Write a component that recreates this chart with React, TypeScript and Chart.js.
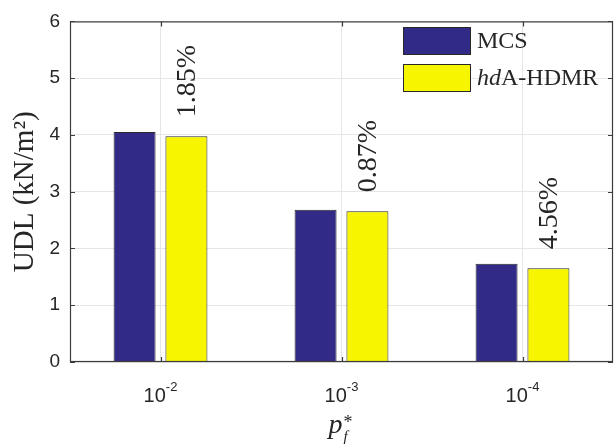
import React, { useEffect, useRef } from "react";
import { Chart, registerables } from "chart.js";

Chart.register(...registerables);

// Probability levels (base 10 exponents shown on the x axis)
const exponents = ["-2", "-3", "-4"];
// Uniformly distributed load, kN/m^2
const mcsValues = [4.05, 2.68, 1.73];
const hdmrValues = [3.975, 2.657, 1.651];
// Relative error of hdA-HDMR with respect to MCS
const errorLabels = ["1.85%", "0.87%", "4.56%"];
const yTicks = [0, 1, 2, 3, 4, 5, 6];

const MCS_COLOR = "#312a86";
const HDMR_COLOR = "#f8f500";
const EDGE = "#2a2a2a";
const AXIS = "#3c3c3c";
const TEXT = "#262626";
const SERIF = "'Liberation Serif', 'Times New Roman', serif";
const SANS = "'Liberation Sans', Arial, sans-serif";

const decorPlugin = {
  id: "decor",
  afterDatasetsDraw(chart: any) {
    const ctx = chart.ctx;
    const meta = chart.getDatasetMeta(1);
    ctx.save();
    ctx.fillStyle = TEXT;
    ctx.font = `28px ${SERIF}`;
    ctx.textAlign = "left";
    ctx.textBaseline = "middle";
    meta.data.forEach((bar: any, i: number) => {
      ctx.save();
      ctx.translate(bar.x, bar.y - 19);
      ctx.rotate(-Math.PI / 2);
      ctx.fillText(errorLabels[i], 0, 1);
      ctx.restore();
    });
    ctx.restore();
  },
  afterDraw(chart: any) {
    const ctx = chart.ctx;
    const { left, right, top, bottom } = chart.chartArea;
    const xs = chart.scales.x;
    const ys = chart.scales.y;
    ctx.save();

    // axes box
    ctx.strokeStyle = AXIS;
    ctx.lineWidth = 1.2;
    ctx.strokeRect(left + 0.5, top + 0.5, right - left - 1, bottom - top - 1);

    // inward tick marks
    ctx.beginPath();
    yTicks.forEach((v) => {
      const y = Math.round(ys.getPixelForValue(v)) + 0.5;
      ctx.moveTo(left, y);
      ctx.lineTo(left + 5, y);
      ctx.moveTo(right, y);
      ctx.lineTo(right - 5, y);
    });
    exponents.forEach((_, i) => {
      const x = Math.round(xs.getPixelForValue(i)) + 0.5;
      ctx.moveTo(x, bottom);
      ctx.lineTo(x, bottom - 5);
      ctx.moveTo(x, top);
      ctx.lineTo(x, top + 5);
    });
    ctx.stroke();

    // x tick labels: 10 with a raised exponent
    ctx.fillStyle = TEXT;
    ctx.textBaseline = "alphabetic";
    ctx.textAlign = "left";
    exponents.forEach((e, i) => {
      const cx = xs.getPixelForValue(i);
      ctx.font = `20px ${SANS}`;
      const wBase = ctx.measureText("10").width;
      ctx.font = `13px ${SANS}`;
      const wExp = ctx.measureText(e).width;
      const x0 = cx - (wBase + wExp) / 2;
      ctx.font = `20px ${SANS}`;
      ctx.fillText("10", x0, 402);
      ctx.font = `13px ${SANS}`;
      ctx.fillText(e, x0 + wBase, 391);
    });

    // x axis title p_f^*
    const tx = (left + right) / 2 - 13;
    ctx.font = `italic 28px ${SERIF}`;
    ctx.fillText("p", tx, 433);
    const wp = ctx.measureText("p").width;
    ctx.font = `18px ${SERIF}`;
    ctx.fillText("*", tx + wp + 1, 428);
    ctx.font = `italic 15px ${SERIF}`;
    ctx.fillText("f", tx + wp + 1, 441);

    // y axis title
    ctx.save();
    ctx.translate(25, (top + bottom) / 2);
    ctx.rotate(-Math.PI / 2);
    ctx.textAlign = "center";
    ctx.textBaseline = "middle";
    ctx.font = `29px ${SERIF}`;
    ctx.fillText("UDL (kN/m\u00b2)", 0, 0);
    ctx.restore();

    // legend
    const items = [
      { color: MCS_COLOR, y: 27, parts: [{ t: "MCS", it: false }] },
      {
        color: HDMR_COLOR,
        y: 64,
        parts: [
          { t: "hd", it: true },
          { t: "A-HDMR", it: false },
        ],
      },
    ];
    items.forEach((item) => {
      ctx.fillStyle = item.color;
      ctx.fillRect(403, item.y, 68, 28);
      ctx.strokeStyle = EDGE;
      ctx.lineWidth = 1;
      ctx.strokeRect(403.5, item.y + 0.5, 67, 27);
      ctx.fillStyle = TEXT;
      ctx.textAlign = "left";
      ctx.textBaseline = "middle";
      let x = 477;
      item.parts.forEach((p) => {
        ctx.font = `${p.it ? "italic " : ""}24px ${SERIF}`;
        ctx.fillText(p.t, x, item.y + 15);
        x += ctx.measureText(p.t).width;
      });
    });

    ctx.restore();
  },
};

export default function App() {
  const canvasRef = useRef<HTMLCanvasElement | null>(null);

  useEffect(() => {
    document.body.style.margin = "0";
    const canvas = canvasRef.current;
    if (!canvas) return;
    const chart = new Chart(canvas, {
      type: "bar",
      data: {
        labels: exponents.map((e) => `10^${e}`),
        datasets: [
          {
            label: "MCS",
            data: mcsValues,
            backgroundColor: MCS_COLOR,
            borderColor: EDGE,
            borderWidth: 1,
            categoryPercentage: 0.573,
            barPercentage: 0.81,
          },
          {
            label: "hdA-HDMR",
            data: hdmrValues,
            backgroundColor: HDMR_COLOR,
            borderColor: EDGE,
            borderWidth: 1,
            categoryPercentage: 0.573,
            barPercentage: 0.81,
          },
        ],
      },
      options: {
        responsive: false,
        animation: false,
        layout: { padding: { top: 11, right: 1, left: 0, bottom: 0 } },
        plugins: {
          legend: { display: false },
          tooltip: { enabled: false },
          title: { display: false },
        },
        scales: {
          x: {
            type: "category",
            offset: true,
            grid: { display: true, offset: false, color: "#e6e6e6", drawTicks: false },
            border: { display: false },
            ticks: { display: false },
            afterFit: (s: any) => {
              s.height = 85;
            },
          },
          y: {
            min: 0,
            max: 6,
            grid: { color: "#e6e6e6", drawTicks: false },
            border: { display: false },
            ticks: {
              stepSize: 1,
              padding: 10,
              color: TEXT,
              font: { family: SANS, size: 19 },
            },
            afterFit: (s: any) => {
              s.width = 70;
            },
          },
        },
      },
      plugins: [decorPlugin],
    });
    return () => chart.destroy();
  }, []);

  return (
    <div style={{ width: 614, height: 447, background: "#fff" }}>
      <canvas ref={canvasRef} width={614} height={447} style={{ display: "block" }} />
    </div>
  );
}
